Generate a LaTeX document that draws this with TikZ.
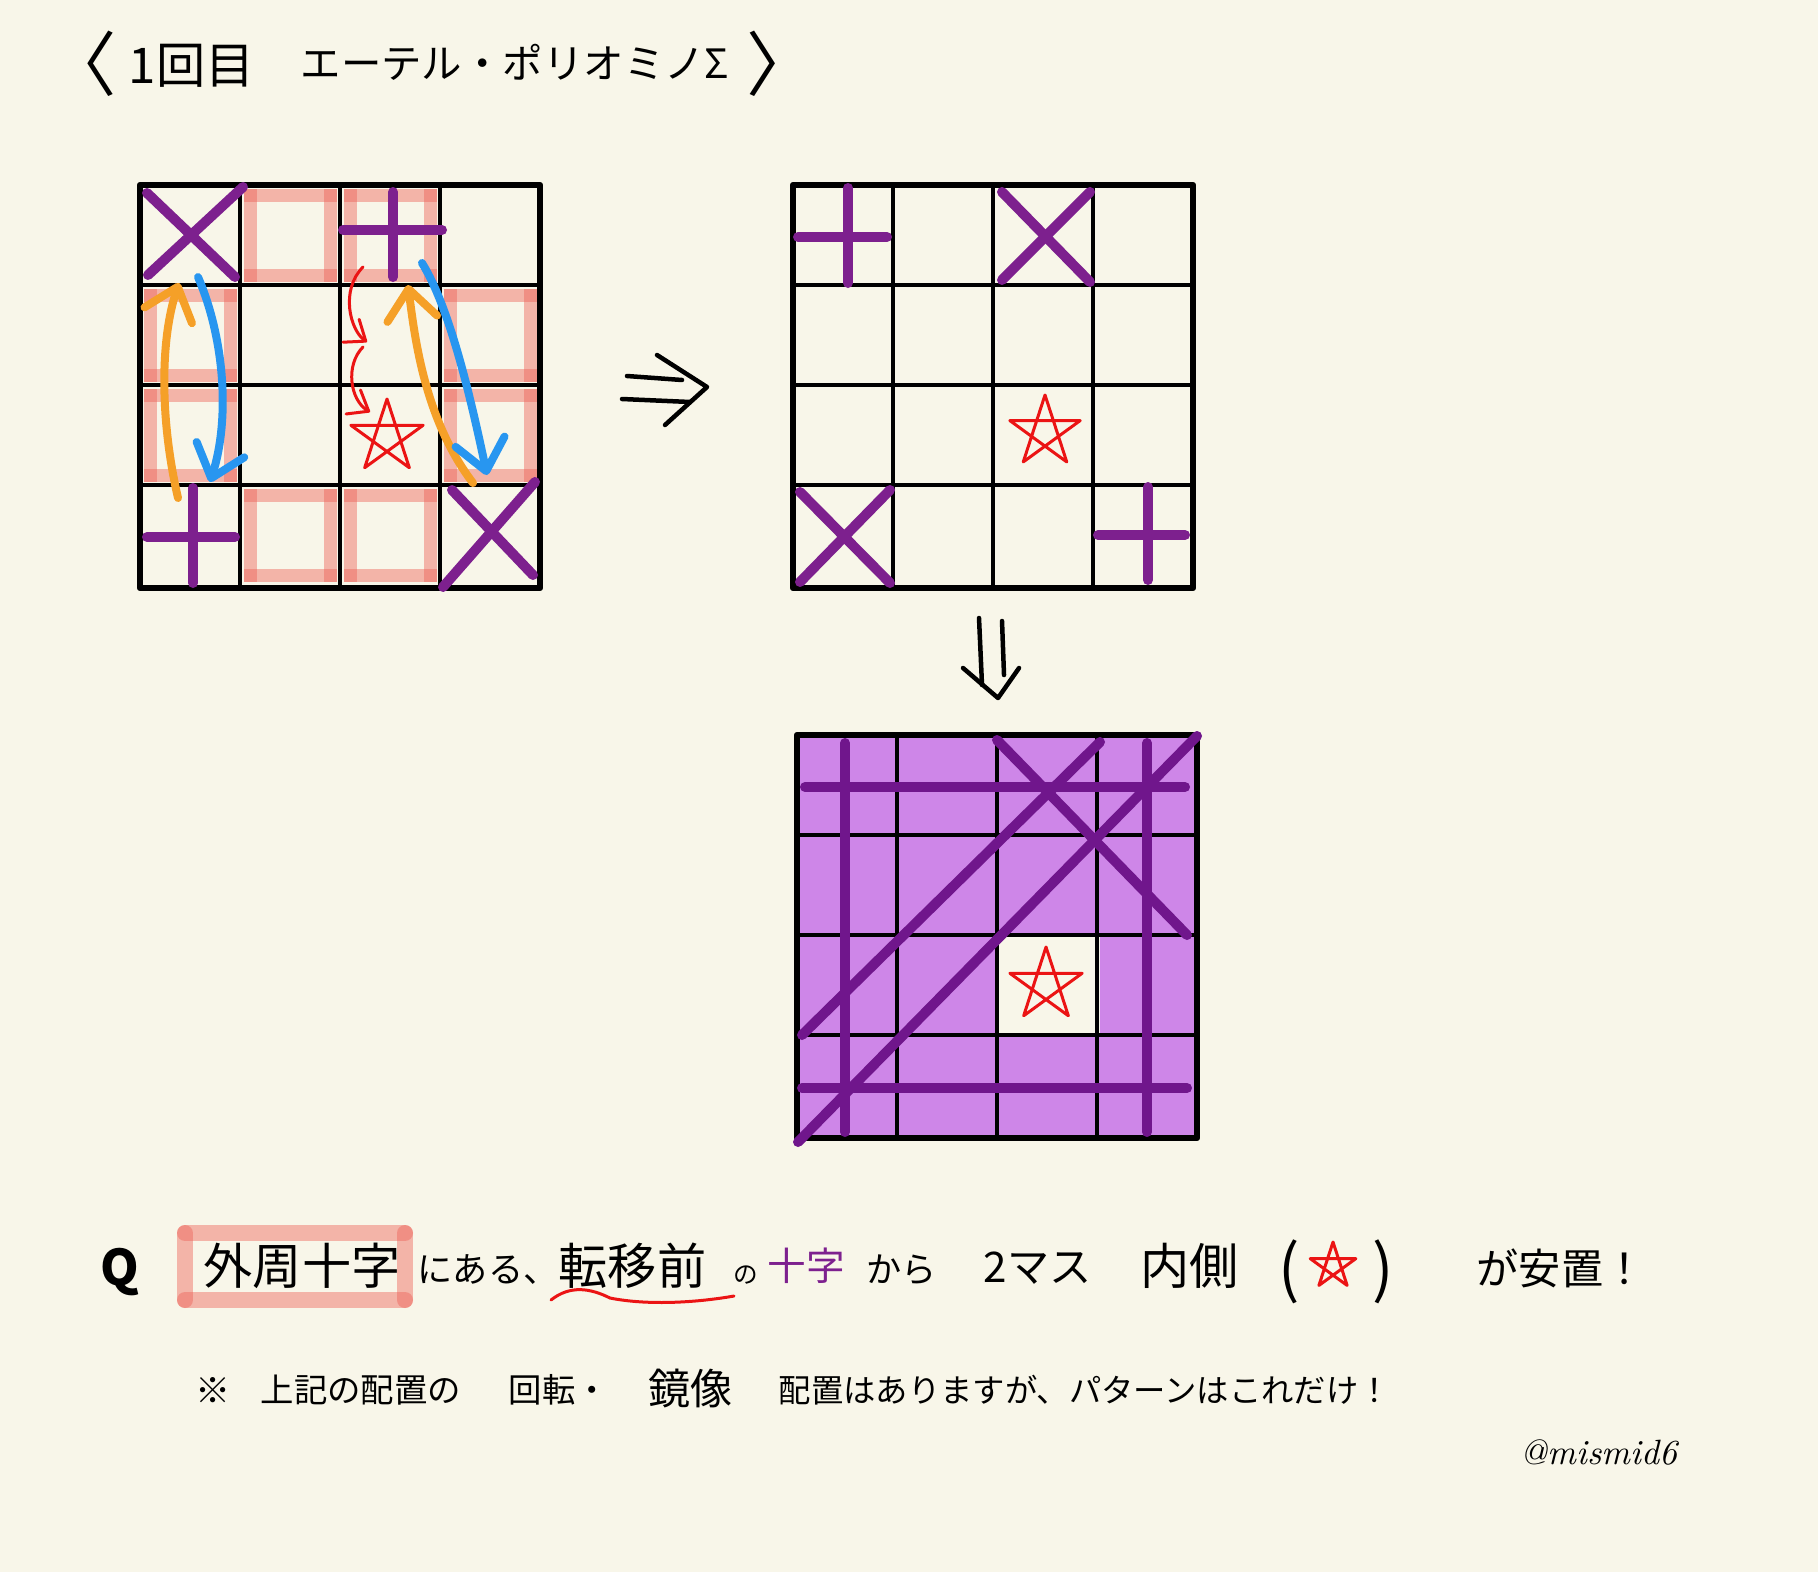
\documentclass[tikz,border=0pt]{standalone}
\usepackage{fontspec}
\newfontfamily\jpfont{Noto Sans CJK JP}
\usepackage{xcolor}
\usepackage{tikz}
\usetikzlibrary{arrows.meta}
\definecolor{bgcream}{RGB}{248,246,233}
\definecolor{plum}{RGB}{125,32,142}
\definecolor{darkplum}{RGB}{112,22,140}
\definecolor{lilac}{RGB}{206,134,232}
\definecolor{salmon}{RGB}{238,100,90}
\definecolor{amber}{RGB}{245,160,40}
\definecolor{sky}{RGB}{40,150,240}
\definecolor{inkred}{RGB}{235,20,20}

\begin{document}
\begin{tikzpicture}[x=0.1mm,y=-0.1mm,
	gridline/.style={line width=0.35mm},
	frameline/.style={line width=0.65mm,line join=round},
	cross/.style={plum,line width=1mm,line cap=round},
	bigcross/.style={darkplum,line width=1mm,line cap=round},
	band/.style={salmon,opacity=0.45,line width=1.3mm,line cap=rect},
	boxband/.style={salmon,opacity=0.45,line width=1.6mm,line cap=round},
	swap/.style={line width=0.8mm,line cap=round,-{Straight Barb[length=3mm,width=5mm,round]}},
	hop/.style={inkred,line width=0.3mm,line cap=round,-{Straight Barb[length=1.8mm,width=2.8mm,round]}},
	starline/.style={inkred,line width=0.3mm,line join=round},
	pen/.style={line width=0.45mm,line cap=round,line join=round},
	jp/.style={font=\jpfont\fontsize{#1}{#1}\selectfont,inner sep=0pt,anchor=west}]
		\useasboundingbox (0,0) rectangle (1818,1572);
		\fill[bgcream] (0,0) rectangle (1818,1572);
		\node[jp=20] (open) at (46,64) {〈};
		\node[jp=14] (round) at (128,66) {1回目};
		\node[jp=11.5] (title) at (300,62) {エーテル・ポリオミノΣ};
		\node[jp=20] (close) at (746,64) {〉};
		\fill[lilac] (797,735) rectangle (1197,1140);
		\fill[bgcream] (998,933) rectangle (1100,1035);
		\foreach \c/\r in {1/0,2/0,0/1,0/2,3/1,3/2,1/3,2/3}{
			\pgfmathsetmacro{\L}{150+100*\c}
			\pgfmathsetmacro{\T}{195+100*\r}
			\draw[band] (\L,\T) -- (\L+80,\T);
			\draw[band] (\L+80,\T) -- (\L+80,\T+80);
			\draw[band] (\L+80,\T+80) -- (\L,\T+80);
			\draw[band] (\L,\T+80) -- (\L,\T);
		}
		\foreach \gx/\gy in {140/185,793/185,797/735}{
			\foreach \k in {1,2,3}{
				\draw[gridline] (\gx+100*\k,\gy) -- (\gx+100*\k,\gy+402);
				\draw[gridline] (\gx,\gy+100*\k) -- (\gx+400,\gy+100*\k);
			}
			\draw[frameline] (\gx,\gy) rectangle (\gx+400,\gy+403);
		}
		\draw[cross] (147,193) -- (235,277);
		\draw[cross] (243,187) -- (148,275);
		\draw[cross] (343,230) -- (442,230);
		\draw[cross] (393,192) -- (393,277);
		\draw[cross] (147,537) -- (235,537);
		\draw[cross] (193,488) -- (193,583);
		\draw[cross] (452,490) -- (533,575);
		\draw[cross] (535,482) -- (443,587);
		\draw[swap,amber] (178,498) .. controls (160,420) and (160,340) .. (179,283);
		\draw[swap,sky] (198,277) .. controls (225,340) and (230,420) .. (210,482);
		\draw[swap,amber] (473,483) .. controls (425,420) and (415,340) .. (408,285);
		\draw[swap,sky] (422,263) .. controls (445,300) and (465,370) .. (487,475);
		\draw[hop] (363,267) .. controls (340,290) and (350,330) .. (367,342);
		\draw[hop] (363,347) .. controls (345,365) and (350,400) .. (370,412);
		\draw[cross] (798,237) -- (887,237);
		\draw[cross] (848,188) -- (848,283);
		\draw[cross] (1002,192) -- (1090,282);
		\draw[cross] (1090,192) -- (1002,280);
		\draw[cross] (800,492) -- (890,583);
		\draw[cross] (890,490) -- (800,582);
		\draw[cross] (1098,535) -- (1185,535);
		\draw[cross] (1148,487) -- (1148,580);
		\draw[bigcross] (805,787) -- (1185,787);
		\draw[bigcross] (802,1088) -- (1187,1088);
		\draw[bigcross] (845,743) -- (845,1132);
		\draw[bigcross] (1147,743) -- (1147,1132);
		\draw[bigcross] (802,1035) -- (1100,742);
		\draw[bigcross] (798,1142) -- (1197,736);
		\draw[bigcross] (997,740) -- (1187,935);
		\foreach \sx/\sy/\sr in {387/437/38,1045/432/37,1046/985/38,1333/1266/24}
			\draw[starline] (\sx,\sy) +(-90:\sr) -- +(54:\sr) -- +(198:\sr) -- +(342:\sr) -- +(126:\sr) -- cycle;
		\draw[pen] (627,376) -- (682,380);
		\draw[pen] (622,399) -- (690,402);
		\draw[pen] (657,355) -- (707,387) -- (665,425);
		\draw[pen] (979,618) -- (982,685);
		\draw[pen] (1002,621) -- (1004,675);
		\draw[pen] (963,668) -- (998,698) -- (1019,668);
		\draw[boxband] (185,1233) -- (405,1233);
		\draw[boxband] (185,1300) -- (405,1300);
		\draw[boxband] (185,1233) -- (185,1300);
		\draw[boxband] (405,1233) -- (405,1300);
		\node[jp=14,font=\jpfont\bfseries\fontsize{14}{14}\selectfont] (q) at (100,1272) {Q};
		\node[jp=14] (outer) at (203,1266) {外周十字};
		\node[jp=10] (naru) at (417,1270) {にある、};
		\node[jp=14] (tenni) at (558,1266) {転移前};
		\node[jp=7] (no) at (733,1275) {の};
		\node[jp=11,text=plum] (jumonji) at (767,1266) {十字};
		\node[jp=10] (kara) at (866,1270) {から};
		\node[jp=12] (two) at (983,1268) {2マス};
		\node[jp=14] (inside) at (1140,1266) {内側};
		\node[jp=18] (lp) at (1278,1272) {(};
		\node[jp=18] (rp) at (1372,1272) {)};
		\node[jp=12] (safe) at (1476,1268) {が安置！};
		\draw[inkred,line width=0.3mm,line cap=round] (551,1300) .. controls (570,1285) and (590,1288) .. (610,1298) .. controls (650,1306) and (700,1302) .. (734,1296);
		\node[jp=10] (note) at (195,1390) {※};
		\node[jp=9.5] (above) at (260,1390) {上記の配置の};
		\node[jp=9.5] (rot) at (508,1390) {回転・};
		\node[jp=12] (mirror) at (648,1388) {鏡像};
		\node[jp=9.2] (only) at (778,1390) {配置はありますが、パターンはこれだけ！};
		\node[font=\itshape\fontsize{10}{12}\selectfont,anchor=west,inner sep=0pt] (sign) at (1520,1452) {@mismid6};
	\end{tikzpicture}
\end{document}
